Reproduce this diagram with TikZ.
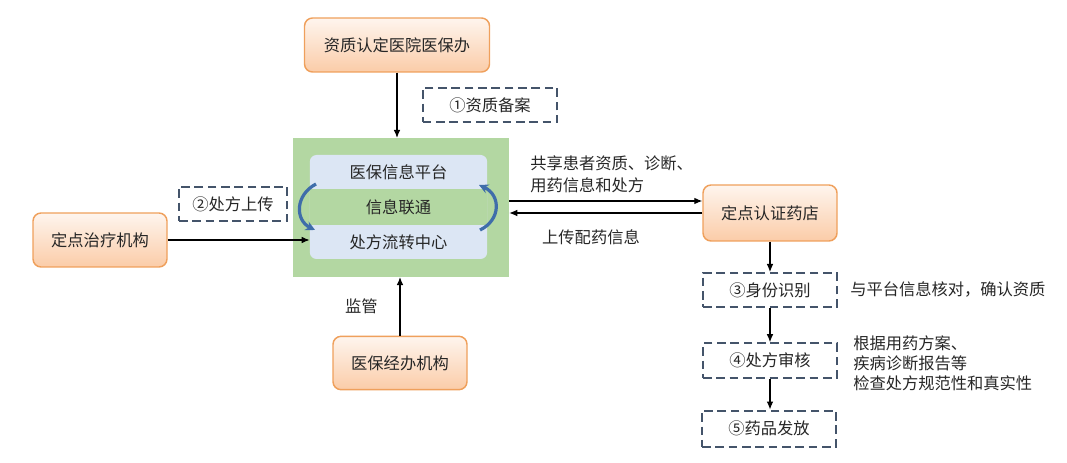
\documentclass[tikz,border=0pt]{standalone}
\usepackage{fontspec}
\setmainfont{Noto Sans CJK SC}
\usetikzlibrary{arrows.meta,positioning,calc}
\definecolor{Edge}{HTML}{EFA05C}
\definecolor{Peach}{HTML}{FBCCA8}
\definecolor{PeachLight}{HTML}{FEF5EE}
\definecolor{Slate}{HTML}{44546A}
\definecolor{Leaf}{HTML}{B3D7A2}
\definecolor{Sky}{HTML}{DCE6F4}
\definecolor{Flow}{HTML}{3F6DAA}
\definecolor{Ink}{HTML}{262626}
\newcommand{\diagfont}{\fontsize{12.2pt}{15pt}\selectfont}
\tikzset{
  org/.style={draw=Edge, line width=1.1pt, top color=PeachLight, bottom color=Peach, rounded corners=6pt, text=Ink, inner sep=0pt},
  stepbox/.style={draw=Slate, line width=1.5pt, dash pattern=on 6.5pt off 3.5pt, fill=white, text=Ink, inner sep=0pt},
  arrow/.style={-{Latex[length=6pt,width=5pt]}, line width=0.8pt, draw=black},
  loop/.style={-{Stealth[length=7pt,width=7pt]}, line width=2.4pt, draw=Flow},
  note/.style={text=Ink, align=left, inner sep=0pt}
}
\begin{document}
\begin{tikzpicture}[x=0.75pt, y=-0.75pt, font=\diagfont]
  \useasboundingbox (0,0) rectangle (1067,463);

  % platform in the middle
  \node[fill=Leaf, minimum width=162pt, minimum height=104pt] (hub) at (401,207.5) {};
  \node[fill=Sky, rounded corners=5pt, minimum width=133pt, minimum height=78pt] (core) at (398.5,207) {};
  \node[fill=Leaf, minimum width=133pt, minimum height=27pt, text=Ink] (band) at (398.5,207) {信息联通};
  \node[text=Ink] (platform) at (398.5,172) {医保信息平台};
  \node[text=Ink] (center) at (398.5,242) {处方流转中心};
  \coordinate (l1) at (316,184);
  \coordinate (l2) at (315,230);
  \coordinate (r1) at (480,230);
  \coordinate (r2) at (479,185);
  \draw[loop] (l1) .. controls (295,195) and (295,220) .. (l2);
  \draw[loop] (r1) .. controls (501,220) and (501,195) .. (r2);

  \node[org, minimum width=138.75pt, minimum height=40.5pt] (office) at (397,45) {资质认定医院医保办};
  \node[stepbox, minimum width=101pt, minimum height=26pt] (file) at (490,105) {①资质备案};
  \draw[arrow] (office.south) -- (office.south |- hub.north);

  \node[org, minimum width=100.5pt, minimum height=40.5pt] (clinic) at (100,240) {定点治疗机构};
  \node[stepbox, minimum width=81pt, minimum height=26pt] (upload) at (233,204) {②处方上传};
  \draw[arrow] (clinic.east) -- (clinic.east -| core.west);

  \node[org, minimum width=100.5pt, minimum height=40pt] (agency) at (400,363) {医保经办机构};
  \draw[arrow] (agency.north) -- node[midway, left=13pt, text=Ink] (watch) {监管} (agency.north |- hub.south);

  % pharmacy side
  \node[org, minimum width=100.5pt, minimum height=42pt] (pharm) at (770,213) {定点认证药店};
  \draw[arrow] ([yshift=9pt]pharm.west -| hub.east) -- ([yshift=9pt]pharm.west);
  \draw[arrow] (pharm.west) -- (pharm.west -| hub.east);
  \node[note, anchor=west, font=\fontsize{12.2pt}{16.5pt}\selectfont] (share) at (530,174) {共享患者资质、诊断、\\用药信息和处方};
  \node[note] (back) at (591,237) {上传配药信息};

  \node[stepbox, minimum width=100.5pt, minimum height=25.5pt] (verify) at (770,290) {③身份识别};
  \node[stepbox, minimum width=100.5pt, minimum height=26pt] (review) at (770,360.5) {④处方审核};
  \node[stepbox, minimum width=100.5pt, minimum height=27pt] (dispense) at (769,428.5) {⑤药品发放};
  \draw[arrow] (pharm.south) -- (verify.north);
  \draw[arrow] (verify.south) -- (verify.south |- review.north);
  \draw[arrow] (review.south) -- (review.south |- dispense.north);
  \node[note, anchor=west] (check) at (850,289) {与平台信息核对，确认资质};
  \node[note, anchor=west] (audit) at (853,363) {根据用药方案、\\疾病诊断报告等\\检查处方规范性和真实性};
\end{tikzpicture}
\end{document}
